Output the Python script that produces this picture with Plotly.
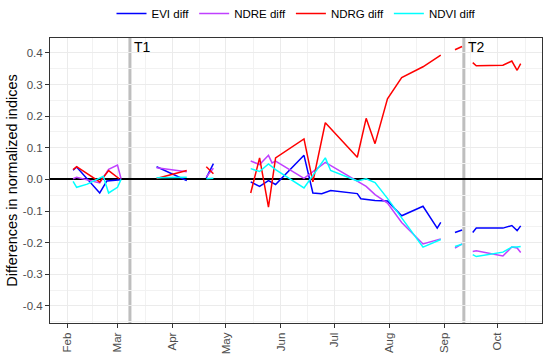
import plotly.graph_objects as go
import pandas as pd

# ---------------- data ----------------
evi_dates = ["2019-02-04", "2019-02-06", "2019-02-19", "2019-02-23", "2019-03-03", None,
             "2019-03-23", "2019-04-09", None,
             "2019-04-20", "2019-04-24", None,
             "2019-05-15", "2019-05-20", "2019-05-25", "2019-05-29", "2019-06-14", "2019-06-19",
             "2019-06-24", "2019-06-26", "2019-06-29", "2019-07-14", "2019-07-16", "2019-07-24",
             "2019-07-31", "2019-08-08", "2019-08-20", "2019-08-28", "2019-08-30", None,
             "2019-09-07", "2019-09-11", None,
             "2019-09-17", "2019-09-19", "2019-10-04", "2019-10-09", "2019-10-12", "2019-10-14"]
evi_vals = [0.029, 0.039, -0.043, -0.005, -0.001, None,
            0.040, -0.004, None,
            0.005, 0.050, None,
            -0.008, -0.022, -0.004, -0.016, 0.076, -0.043,
            -0.045, -0.041, -0.035, -0.045, -0.061, -0.067,
            -0.068, -0.115, -0.085, -0.154, -0.136, None,
            -0.168, -0.160, None,
            -0.168, -0.154, -0.154, -0.146, -0.162, -0.147]

ndre_dates = ["2019-02-04", "2019-02-06", "2019-02-19", "2019-02-24", "2019-03-01", "2019-03-03", None,
              "2019-03-23", "2019-04-09", None,
              "2019-04-20", "2019-04-24", None,
              "2019-05-15", "2019-05-20", "2019-05-25", "2019-05-27", "2019-05-29", "2019-06-14",
              "2019-06-26", "2019-07-14", "2019-07-19", "2019-07-24", "2019-07-31", "2019-08-08",
              "2019-08-20", "2019-08-30", None,
              "2019-09-07", "2019-09-11", None,
              "2019-09-17", "2019-09-19", "2019-10-04", "2019-10-09", "2019-10-12", "2019-10-14"]
ndre_vals = [0.002, 0.007, -0.011, 0.032, 0.045, 0.002, None,
             0.037, 0.024, None,
             0.008, 0.035, None,
             0.058, 0.047, 0.076, 0.052, 0.058, 0.003,
             0.054, -0.004, -0.022, -0.048, -0.075, -0.136,
             -0.204, -0.188, None,
             -0.217, -0.204, None,
             -0.228, -0.226, -0.242, -0.214, -0.217, -0.231]

ndrg_dates = ["2019-02-04", "2019-02-06", "2019-02-19", "2019-02-24", "2019-03-02", None,
              "2019-03-23", "2019-04-09", None,
              "2019-04-20", "2019-04-24", None,
              "2019-05-15", "2019-05-20", "2019-05-25", "2019-05-29", "2019-06-14", "2019-06-19",
              "2019-06-26", "2019-07-14", "2019-07-19", "2019-07-24", "2019-07-31", "2019-08-08",
              "2019-08-20", "2019-08-30", None,
              "2019-09-07", "2019-09-11", None,
              "2019-09-17", "2019-09-19", "2019-10-04", "2019-10-09", "2019-10-12", "2019-10-14"]
ndrg_vals = [0.031, 0.040, -0.008, 0.028, 0.002, None,
             0.003, 0.028, None,
             0.040, 0.018, None,
             -0.043, 0.068, -0.088, 0.068, 0.128, -0.008,
             0.179, 0.070, 0.193, 0.113, 0.255, 0.322,
             0.356, 0.393, None,
             0.410, 0.420, None,
             0.369, 0.359, 0.361, 0.374, 0.345, 0.366]

ndvi_dates = ["2019-02-04", "2019-02-06", "2019-02-12", "2019-02-21", "2019-02-24", "2019-03-01", "2019-03-03", None,
              "2019-03-23", "2019-04-09", None,
              "2019-04-20", "2019-04-24", None,
              "2019-05-15", "2019-05-20", "2019-05-25", "2019-05-29", "2019-06-14", "2019-06-26",
              "2019-06-29", "2019-07-14", "2019-07-19", "2019-07-24", "2019-07-31", "2019-08-08",
              "2019-08-20", "2019-08-30", None,
              "2019-09-07", "2019-09-11", None,
              "2019-09-17", "2019-09-19", "2019-10-04", "2019-10-09", "2019-10-12", "2019-10-14"]
ndvi_vals = [-0.006, -0.025, -0.015, 0.010, -0.043, -0.025, 0.0, None,
             0.005, 0.007, None,
             0.002, 0.004, None,
             0.034, 0.025, 0.049, 0.031, -0.027, 0.068,
             0.028, -0.005, 0.002, -0.010, -0.060, -0.121,
             -0.214, -0.190, None,
             -0.212, -0.205, None,
             -0.238, -0.244, -0.230, -0.214, -0.214, -0.212]

series_names = ["EVI diff", "NDRE diff", "NDRG diff", "NDVI diff"]
series_colors = ["#0000FF", "#C040FF", "#FF0000", "#00FFFF"]

event_dates = ["2019-03-08", "2019-09-12"]
event_labels = ["T1", "T2"]

month_ticks = ["2019-02-01", "2019-03-01", "2019-04-01", "2019-05-01", "2019-06-01",
               "2019-07-01", "2019-08-01", "2019-09-01", "2019-10-01"]
month_labels = ["Feb", "Mar", "Apr", "May", "Jun", "Jul", "Aug", "Sep", "Oct"]

y_ticks = [0.4, 0.3, 0.2, 0.1, 0.0, -0.1, -0.2, -0.3, -0.4]
y_tick_labels = ["0.4", "0.3", "0.2", "0.1", "0.0", "-0.1", "-0.2", "-0.3", "-0.4"]

x_range = ["2019-01-22 00:00", "2019-10-26 00:00"]
y_range = [-0.454, 0.447]

# ---------------- figure ----------------
FONT = "Liberation Sans, Arial, sans-serif"
fig = go.Figure()

all_dates = [evi_dates, ndre_dates, ndrg_dates, ndvi_dates]
all_vals = [evi_vals, ndre_vals, ndrg_vals, ndvi_vals]
for name, d, v, c in zip(series_names, all_dates, all_vals, series_colors):
    fig.add_trace(go.Scatter(x=d, y=v, mode="lines", name=name,
                             line=dict(color=c, width=1.5), connectgaps=False))

for d, lab in zip(event_dates, event_labels):
    fig.add_shape(type="line", xref="x", yref="paper", x0=d, x1=d, y0=0, y1=1,
                  line=dict(color="#BEBEBE", width=3), layer="between")
    fig.add_annotation(x=d, y=0.968, xref="x", yref="paper", text=lab, showarrow=False,
                       xanchor="left", yanchor="middle", xshift=2,
                       font=dict(family=FONT, size=14, color="black"))

ms = pd.date_range("2019-01-01", "2019-11-01", freq="MS")
minor_x = [ms[i] + (ms[i + 1] - ms[i]) / 2 for i in range(len(ms) - 1)]

fig.update_layout(
    width=550, height=357,
    margin=dict(l=50, r=8, t=38, b=34, autoexpand=False),
    paper_bgcolor="white", plot_bgcolor="white",
    font=dict(family=FONT, color="black"),
    showlegend=True,
    legend=dict(orientation="h", x=0.50, xanchor="center", y=1.086, yanchor="middle",
                font=dict(family=FONT, size=11.5, color="black"),
                bgcolor="rgba(0,0,0,0)", itemwidth=30),
    xaxis=dict(
        type="date", range=x_range, tickmode="array", tickvals=month_ticks, ticktext=month_labels,
        tickangle=-90, tickfont=dict(family=FONT, size=11.5, color="#4D4D4D"),
        ticks="outside", ticklen=4, tickcolor="#333333", tickwidth=1,
        showgrid=True, gridcolor="#EBEBEB", gridwidth=1,
        minor=dict(tickvals=minor_x, showgrid=True, gridcolor="#F2F2F2", gridwidth=0.6, ticks=""),
        showline=True, linecolor="#333333", linewidth=1, mirror=True,
        zeroline=False, automargin=False,
    ),
    yaxis=dict(
        range=y_range, tickmode="array", tickvals=y_ticks, ticktext=y_tick_labels,
        tickfont=dict(family=FONT, size=11.5, color="#4D4D4D"),
        ticks="outside", ticklen=4, tickcolor="#333333", tickwidth=1,
        showgrid=True, gridcolor="#EBEBEB", gridwidth=1,
        minor=dict(dtick=0.1, tick0=0.05, showgrid=True, gridcolor="#F2F2F2", gridwidth=0.6, ticks=""),
        showline=True, linecolor="#333333", linewidth=1, mirror=True,
        zeroline=True, zerolinecolor="black", zerolinewidth=1.6,
        title=dict(text="Differences in normalized indices", font=dict(family=FONT, size=14.5, color="black"),
                   standoff=1),
        automargin=False,
    ),
)

fig.write_html("out.html", config={"displayModeBar": False},
               post_script="document.body.style.margin='0';document.body.style.overflow='hidden';")
